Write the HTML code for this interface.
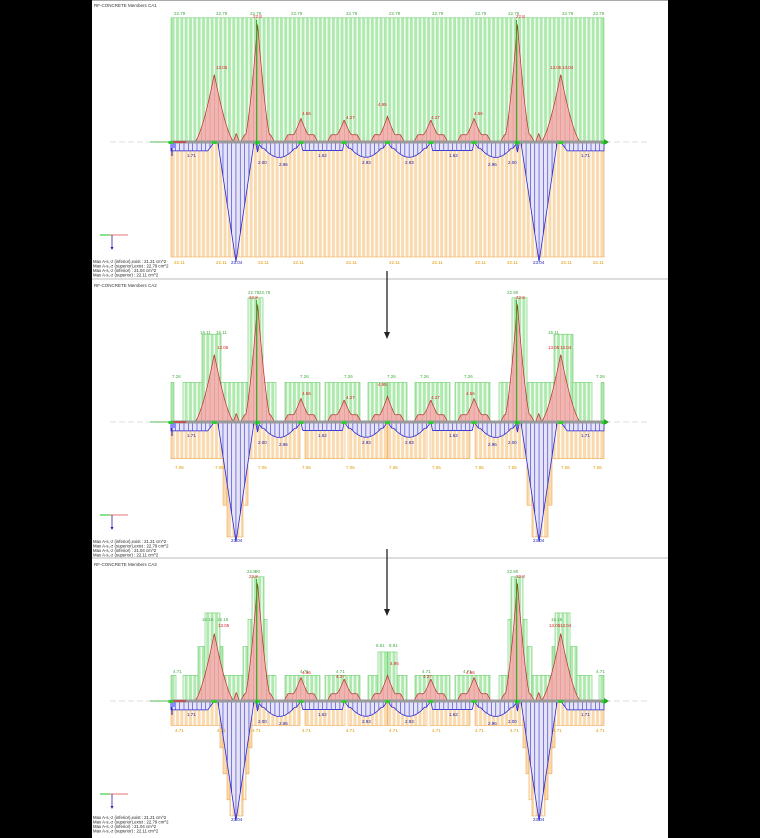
<!DOCTYPE html>
<html><head><meta charset="utf-8">
<style>
html,body{margin:0;padding:0;background:#000;}
svg{display:block}
text{font-family:"Liberation Sans",sans-serif;}
</style></head>
<body>
<svg id="s" width="760" height="838" viewBox="0 0 760 838" xmlns="http://www.w3.org/2000/svg">
<rect x="0" y="0" width="760" height="838" fill="#000"/>
<rect x="92" y="0" width="576" height="838" fill="#fff"/>
<line x1="92" y1="0.5" x2="668" y2="0.5" stroke="#aaa"/>
<line x1="92" y1="279" x2="668" y2="279" stroke="#bbb"/>
<line x1="92" y1="558" x2="668" y2="558" stroke="#bbb"/>
<g id="p1"></g>
<g id="p2" transform="translate(0,280)"></g>
<g id="p3" transform="translate(0,559)"></g>

<line x1="387" y1="271" x2="387" y2="333" stroke="#222" stroke-width="1.3"/>
<polygon points="384,332 390,332 387,339" fill="#222"/>
<line x1="387" y1="549" x2="387" y2="610" stroke="#222" stroke-width="1.3"/>
<polygon points="384,609 390,609 387,616" fill="#222"/>

<g font-size="4.5">
<text x="94" y="7" fill="#333">RF-CONCRETE Members CA1</text>
<g fill="#4a4">
<text x="174" y="15">22.79</text><text x="216" y="15">22.79</text><text x="250" y="15">22.79</text><text x="291" y="15">22.79</text><text x="346" y="15">22.79</text><text x="389" y="15">22.79</text><text x="432" y="15">22.79</text><text x="475" y="15">22.79</text><text x="508" y="15">22.79</text><text x="562" y="15">22.79</text><text x="593" y="15">22.79</text>
</g>
<g fill="#d22">
<text x="216" y="69">13.05</text><text x="253" y="18">22.8</text><text x="302" y="115">4.56</text><text x="346" y="119">4.27</text><text x="378" y="106">4.95</text><text x="431" y="119">4.27</text><text x="474" y="115">4.56</text><text x="516" y="18">22.8</text><text x="550" y="69">13.05</text><text x="562" y="69">13.04</text>
</g>
<g fill="#22a">
<text x="187" y="157">1.71</text><text x="258" y="164">2.00</text><text x="279" y="166">2.96</text><text x="318" y="157">1.62</text><text x="362" y="164">2.93</text><text x="405" y="164">2.93</text><text x="449" y="157">1.62</text><text x="488" y="166">2.96</text><text x="508" y="164">2.00</text><text x="581" y="157">1.71</text>
<text x="231" y="264">23.04</text><text x="533" y="264">23.04</text>
</g>
<g fill="#d90">
<text x="174" y="264">22.11</text><text x="216" y="264">22.11</text><text x="258" y="264">22.11</text><text x="293" y="264">22.11</text><text x="346" y="264">22.11</text><text x="389" y="264">22.11</text><text x="432" y="264">22.11</text><text x="475" y="264">22.11</text><text x="507" y="264">22.11</text><text x="561" y="264">22.11</text><text x="593" y="264">22.11</text>
</g>
<g fill="#222" font-size="4.3">
<text x="93" y="263">Max A-s,-z (inferior),exist : 21.21 cm^2</text>
<text x="93" y="267.5">Max A-s,-z (superior),exist : 22.79 cm^2</text>
<text x="93" y="272">Max A-s,-z (inferior) : 21.04 cm^2</text>
<text x="93" y="276.5">Max A-s,-z (superior) : 22.11 cm^2</text>
</g>
</g>

<g font-size="4.5" transform="translate(0,280)">
<text x="94" y="7" fill="#333">RF-CONCRETE Members CA2</text>
<g fill="#4a4">
<text x="172" y="98">7.26</text><text x="200" y="54">16.11</text><text x="216" y="54">16.11</text><text x="248" y="14">22.79</text><text x="259" y="14">22.79</text><text x="300" y="98">7.26</text><text x="344" y="98">7.26</text><text x="387" y="98">7.26</text><text x="420" y="98">7.26</text><text x="464" y="98">7.26</text><text x="507" y="14">22.90</text><text x="548" y="54">16.11</text><text x="596" y="98">7.26</text>
</g>
<g fill="#d22">
<text x="217" y="69">13.05</text><text x="249" y="19">22.8</text><text x="302" y="115">4.56</text><text x="346" y="119">4.27</text><text x="378" y="106">4.95</text><text x="431" y="119">4.27</text><text x="466" y="115">4.56</text><text x="516" y="19">22.8</text><text x="548" y="69">13.05</text><text x="560" y="69">13.04</text>
</g>
<g fill="#22a">
<text x="187" y="157">1.71</text><text x="258" y="164">2.00</text><text x="279" y="166">2.96</text><text x="318" y="157">1.62</text><text x="362" y="164">2.93</text><text x="405" y="164">2.93</text><text x="449" y="157">1.62</text><text x="488" y="166">2.96</text><text x="508" y="164">2.00</text><text x="581" y="157">1.71</text>
<text x="231" y="262">23.04</text><text x="533" y="262">23.04</text>
</g>
<g fill="#d90">
<text x="175" y="189">7.06</text><text x="215" y="189">7.06</text><text x="258" y="189">7.06</text><text x="302" y="189">7.06</text><text x="346" y="189">7.06</text><text x="389" y="189">7.06</text><text x="432" y="189">7.06</text><text x="475" y="189">7.06</text><text x="508" y="189">7.06</text><text x="561" y="189">7.06</text><text x="593" y="189">7.06</text>
</g>
<g fill="#222" font-size="4.3">
<text x="93" y="263">Max A-s,-z (inferior),exist : 21.21 cm^2</text>
<text x="93" y="267.5">Max A-s,-z (superior),exist : 22.79 cm^2</text>
<text x="93" y="272">Max A-s,-z (inferior) : 21.04 cm^2</text>
<text x="93" y="276.5">Max A-s,-z (superior) : 22.11 cm^2</text>
</g>
</g>

<g font-size="4.5" transform="translate(0,559)">
<text x="94" y="7" fill="#333">RF-CONCRETE Members CA3</text>
<g fill="#4a4">
<text x="173" y="114">4.71</text><text x="202" y="62">16.16</text><text x="217" y="62">16.16</text><text x="247" y="14">22.8</text><text x="255" y="14">90</text><text x="300" y="114">4.71</text><text x="336" y="114">4.71</text><text x="376" y="88">8.81</text><text x="389" y="88">8.81</text><text x="422" y="114">4.71</text><text x="463" y="114">4.71</text><text x="507" y="14">22.90</text><text x="551" y="62">16.16</text><text x="596" y="114">4.71</text>
</g>
<g fill="#d22">
<text x="218" y="68">13.05</text><text x="249" y="19">22.8</text><text x="302" y="115">4.56</text><text x="336" y="119">4.27</text><text x="390" y="106">4.95</text><text x="423" y="119">4.27</text><text x="466" y="115">4.56</text><text x="516" y="19">22.8</text><text x="549" y="68">13.05</text><text x="560" y="68">13.04</text>
</g>
<g fill="#22a">
<text x="187" y="157">1.71</text><text x="258" y="164">2.00</text><text x="279" y="166">2.96</text><text x="318" y="157">1.62</text><text x="362" y="164">2.93</text><text x="405" y="164">2.93</text><text x="449" y="157">1.62</text><text x="488" y="166">2.96</text><text x="508" y="164">2.00</text><text x="581" y="157">1.71</text>
<text x="231" y="262">23.04</text><text x="533" y="262">23.04</text>
</g>
<g fill="#d90">
<text x="175" y="173">4.71</text><text x="217" y="173">4.71</text><text x="252" y="173">4.71</text><text x="302" y="173">4.71</text><text x="346" y="173">4.71</text><text x="389" y="173">4.71</text><text x="432" y="173">4.71</text><text x="475" y="173">4.71</text><text x="510" y="173">4.71</text><text x="553" y="173">4.71</text><text x="596" y="173">4.71</text>
</g>
<g fill="#222" font-size="4.3">
<text x="93" y="260">Max A-s,-z (inferior),exist : 21.21 cm^2</text>
<text x="93" y="264.5">Max A-s,-z (superior),exist : 22.79 cm^2</text>
<text x="93" y="269">Max A-s,-z (inferior) : 21.04 cm^2</text>
<text x="93" y="273.5">Max A-s,-z (superior) : 22.11 cm^2</text>
</g>
</g>
</svg>
<script>
(function(){
var NS="http://www.w3.org/2000/svg";
function el(g,t,a){var e=document.createElementNS(NS,t);for(var k in a)e.setAttribute(k,a[k]);g.appendChild(e);return e;}
var AX=142, KG=5.45, KO=5.2, KC=5.2, X0=171, X1=604, ST=4.33;
var S=[];for(var i=0;i<=10;i++)S.push(X0+i*(X1-X0)/10);
function mir(l){var r=l.slice();for(var i=l.length-1;i>=0;i--){var b=l[i];r.push([775-b[1],775-b[0],b[2]]);}return r;}
function bars(g,blocks,up){
  var k=up?KG:KO, fill=up?"#aee9ae":"#f9d9ae", ln="#ffffff", ed=up?"#70cc70":"#eeaa55";
  blocks.forEach(function(b){
    var h=b[2]*k, y=up?AX-h:AX;
    el(g,"rect",{x:b[0],y:y,width:b[1]-b[0],height:h,fill:fill});
    for(var x=X0;x<=X1;x+=ST){ if(x>b[0]+0.5&&x<b[1]-0.5) el(g,"line",{x1:x,y1:y,x2:x,y2:y+h,stroke:ln,"stroke-width":1.5,"stroke-opacity":0.85}); }
    el(g,"rect",{x:b[0],y:y,width:b[1]-b[0],height:h,fill:"none",stroke:ed,"stroke-width":0.6});
  });
}
function red(x){
  var H=[0,13.05,22.8,4.56,4.27,4.95,4.27,4.56,22.8,13.05,0], v=0;
  for(var i=1;i<10;i++){var d=Math.abs(x-S[i]);var w=H[i]>10?(H[i]>20?14:20):13;
    var p=H[i]*Math.pow(Math.max(0,1-d/w),1.5); if(H[i]<10 && d<w) p=Math.max(p,1.2+ (H[i]-1.2)*Math.pow(Math.max(0,1-d/9),1.6));
    if(d<16&&H[i]>10)p=Math.max(p,1.6*(1-d/16)); if(d<17) p=Math.max(p,(d<13?1.4:1.4*(17-d)/4));
    v=Math.max(v,p);}
  [236.3,538.7].forEach(function(c){var d=Math.abs(x-c);v=Math.max(v,1.7*Math.max(0,1-d/3));});
  return v;
}
function blue(x){
  for(var i=0;i<10;i++){ if(x>=S[i]&&x<=S[i+1]){
    var t=(x-S[i])/(S[i+1]-S[i]), v=0;
    var trap=function(h){var a=Math.min(t,1-t);return a<0.04?h*a/0.04:h;};
    if(i==0){v=t>0.85?1.71*(1-t)/0.15:1.71;}
    else if(i==9){v=t<0.15?1.71*t/0.15:1.71;}
    else if(i==1||i==8){v=23.04*Math.max(0,1-Math.abs(t-0.5)/0.42);}
    else if(i==2||i==7||i==4||i==5){var h=(i==2||i==7)?2.96:2.93; var a=Math.max(0,Math.sin(Math.PI*Math.min(1,Math.max(0,(t-0.05)/0.9)))); v=h*Math.pow(a,0.8); v=Math.max(v,Math.min(1.2,Math.min(t,1-t)*12));}
    else {v=trap(1.62);}
    [S[2],S[8]].forEach(function(c){var d=Math.abs(x-c);v=Math.max(v,2.0*Math.max(0,1-d/2));});
    return v;}}
  return 0;
}
function curves(g){
  var pr="M"+X0+","+AX, pb="M"+X0+","+AX;
  for(var x=X0;x<=X1;x+=0.5){pr+=" L"+x+","+(AX-red(x)*KC).toFixed(2); pb+=" L"+x+","+(AX+blue(x)*KC).toFixed(2);}
  pr+=" L"+X1+","+AX+"Z"; pb+=" L"+X1+","+AX+"Z";
  el(g,"path",{d:pr,fill:"#f5b0b0","fill-opacity":0.9});
  el(g,"path",{d:pb,fill:"#e4e4fa","fill-opacity":0.9});
  for(var x=X0;x<=X1;x+=ST){
    var r=red(x); if(r>0.05) el(g,"line",{x1:x,y1:AX,x2:x,y2:AX-r*KC,stroke:"#e58080","stroke-width":0.5});
    var b=blue(x); if(b>0.05) el(g,"line",{x1:x,y1:AX,x2:x,y2:AX+b*KC,stroke:"#4848e0","stroke-width":0.7});
  }
  el(g,"path",{d:pr,fill:"none",stroke:"#b83030","stroke-width":0.7});
  el(g,"path",{d:pb,fill:"none",stroke:"#2828d8","stroke-width":0.8});
}
function axis(g){
  el(g,"line",{x1:110,y1:AX,x2:650,y2:AX,stroke:"#bbb","stroke-width":0.6,"stroke-dasharray":"6,3"});
  el(g,"line",{x1:X0,y1:AX,x2:X1,y2:AX,stroke:"#9a9a9a","stroke-width":3});
  el(g,"line",{x1:150,y1:AX,x2:171,y2:AX,stroke:"#2a2","stroke-width":0.8});
  el(g,"line",{x1:171,y1:AX,x2:186,y2:AX,stroke:"#d22","stroke-width":1.2});
  el(g,"line",{x1:172,y1:AX,x2:172,y2:AX+14,stroke:"#22b","stroke-width":1});
  el(g,"rect",{x:171,y:AX+1,width:5,height:5,fill:"#88f"});
  S.forEach(function(s){el(g,"rect",{x:s-2.5,y:AX-1,width:5,height:3,fill:"#3c3"});});
  el(g,"polygon",{points:"604,139 609,142 604,145",fill:"#2a2"});
  el(g,"line",{x1:100,y1:235,x2:128,y2:235,stroke:"#d44","stroke-width":0.8});
  el(g,"line",{x1:100,y1:235,x2:110,y2:235,stroke:"#4c4","stroke-width":1.2});
  el(g,"line",{x1:112,y1:235,x2:112,y2:248,stroke:"#22a","stroke-width":0.8});
  el(g,"polygon",{points:"110.5,247 113.5,247 112,250",fill:"#22a"});
}
var P=[
 {g:"p1",G:[[171,604,22.79]],O:[[171,604,22.11]]},
 {g:"p2",G:mir([[171,174,7.26],[183,202,7.26],[202,221,16.11],[221,248,7.26],[248,263,22.79],[263,276,7.26],[285,320,7.26],[325,360,7.26],[368,387.5,7.26]]),
         O:mir([[171,223,7.06],[223,227,16],[227,243,22.11],[243,248,16],[248,300,7.06],[305,345,7.06],[348,387.5,7.06]])},
 {g:"p3",G:mir([[171,176,4.71],[183,198,4.71],[198,205,10],[205,220,16.16],[220,223,10],[223,243,4.71],[243,248,10],[248,252,15],[252,264,22.79],[264,267,15],[267,276,4.71],[285,320,4.71],[325,360,4.71],[368,378,4.71],[378,387.5,9]]),
         O:mir([[171,220,4.71],[220,223,9],[223,227,14],[227,230,19],[230,243,22.11],[243,246,19],[246,249,14],[249,252,9],[252,300,4.71],[305,345,4.71],[348,387.5,4.71]])}
];
P.forEach(function(p){var g=document.getElementById(p.g);bars(g,p.G,true);bars(g,p.O,false);curves(g);axis(g);
  [S[2],S[8]].forEach(function(s){el(g,"line",{x1:s-1,y1:AX-122,x2:s-1,y2:AX+4,stroke:"#1b1","stroke-width":1});});});
})();
</script>
</body></html>
